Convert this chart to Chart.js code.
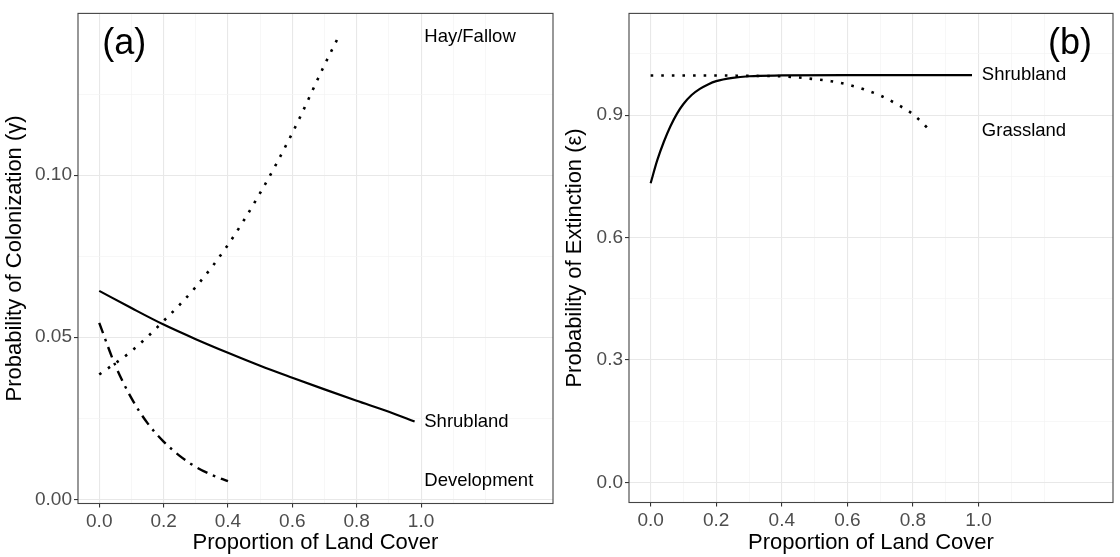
<!DOCTYPE html>
<html>
<head>
<meta charset="utf-8">
<script src="https://cdn.jsdelivr.net/npm/chart.js@4.4.1/dist/chart.umd.min.js"></script>
<style>
    html, body { margin: 0; padding: 0; background: #fff; }
    #contenedor { position: relative; width: 1120px; height: 557px; }
    canvas { position: absolute; top: 0; }
</style>
</head>
<body>
<div id="contenedor">
    <canvas id="colonizacion" width="560" height="557" style="left:0"></canvas>
    <canvas id="extincion" width="560" height="557" style="left:560px"></canvas>
</div>
<script>
// Panel (a): probabilidad de colonizacion
const xShrubA = [0, 0.1, 0.2, 0.3, 0.4, 0.5, 0.6, 0.7, 0.8, 0.9, 0.98];
const yShrubA = [0.0643, 0.0590, 0.0539, 0.0494, 0.0452, 0.0412, 0.0375, 0.0339, 0.0304, 0.0270, 0.0240];
const xHayA = [0, 0.1, 0.2, 0.3, 0.4, 0.5, 0.6, 0.7, 0.745];
const yHayA = [0.0385, 0.0457, 0.0550, 0.0655, 0.0785, 0.0945, 0.1130, 0.1340, 0.1430];
const xDevA = [0, 0.05, 0.1, 0.15, 0.2, 0.25, 0.3, 0.35, 0.4];
const yDevA = [0.0544, 0.0413, 0.0312, 0.0235, 0.0178, 0.0134, 0.0100, 0.0075, 0.0056];

// Panel (b): probabilidad de extincion
const xShrubB = [0, 0.02, 0.04, 0.06, 0.08, 0.1, 0.125, 0.15, 0.175, 0.2, 0.25, 0.3, 0.4, 0.6, 0.8, 0.98];
const yShrubB = [0.733, 0.789, 0.834, 0.872, 0.903, 0.927, 0.949, 0.964, 0.975, 0.983, 0.991, 0.995, 0.997, 0.998, 0.998, 0.998];
const xGrassB = [0, 0.2, 0.3, 0.4, 0.45, 0.5, 0.55, 0.6, 0.65, 0.7, 0.75, 0.8, 0.855];
const yGrassB = [0.997, 0.997, 0.996, 0.995, 0.992, 0.988, 0.983, 0.975, 0.963, 0.948, 0.927, 0.902, 0.860];

// Marcas de los ejes
const xMayores = [0, 0.2, 0.4, 0.6, 0.8, 1.0];
const xMenores = [0.1, 0.3, 0.5, 0.7, 0.9, 1.1, 1.2];
const yMayoresA = [0, 0.05, 0.10];
const yMenoresA = [0.025, 0.075, 0.125];
const yMayoresB = [0, 0.3, 0.6, 0.9];
const yMenoresB = [0.15, 0.45, 0.75, 1.05];

// Etiquetas de texto [texto, x, y]
const etiquetasA = [['Hay/Fallow', 1.01, 0.1427], ['Shrubland', 1.01, 0.0240], ['Development', 1.01, 0.0056]];
const etiquetasB = [['Shrubland', 1.01, 0.998], ['Grassland', 1.01, 0.860]];

Chart.defaults.font.family = '"Liberation Sans", Arial, sans-serif';
Chart.defaults.color = '#4d4d4d';

function esMayor(lista, v) {
    return lista.some(m => Math.abs(m - v) < 1e-9);
}

function puntos(xs, ys) {
    return xs.map((x, i) => ({ x: x, y: ys[i] }));
}

function crearEje(mayores, menores, min, max, decimales, titulo, tamano, vertical) {
    const mayor = ctx => ctx.tick && esMayor(mayores, ctx.tick.value);
    return {
        type: 'linear',
        min: min,
        max: max,
        afterBuildTicks: function(scale) {
            scale.ticks = mayores.concat(menores).sort((a, b) => a - b).map(v => ({ value: v }));
        },
        afterFit: function(scale) {
            if (vertical) scale.width = tamano; else scale.height = tamano;
        },
        grid: {
            color: ctx => mayor(ctx) ? '#e8e8e8' : '#f3f3f3',
            lineWidth: ctx => mayor(ctx) ? 1.1 : 0.7,
            tickColor: ctx => mayor(ctx) ? '#333333' : 'rgba(0,0,0,0)',
            tickLength: 4,
            drawTicks: true
        },
        border: { display: false },
        ticks: {
            autoSkip: false,
            maxRotation: 0,
            minRotation: 0,
            padding: vertical ? 2 : 3,
            font: { size: 19 },
            color: '#4d4d4d',
            callback: v => esMayor(mayores, v) ? v.toFixed(decimales) : ''
        },
        title: {
            display: true,
            text: titulo,
            color: '#000',
            font: { size: 22 },
            padding: { top: 2, bottom: 1 }
        }
    };
}

function linea(xs, ys, guiones, ancho) {
    return {
        data: puntos(xs, ys),
        borderColor: '#000',
        borderWidth: ancho,
        borderDash: guiones,
        pointRadius: 0,
        cubicInterpolationMode: 'monotone',
        fill: false
    };
}

// Marco del panel y textos
function marcoYTextos(etiquetas, letra, letraX, letraY) {
    return {
        id: 'marcoYTextos',
        afterDraw(chart) {
            const ctx = chart.ctx;
            const a = chart.chartArea;
            const sx = chart.scales.x;
            const sy = chart.scales.y;
            ctx.save();
            ctx.strokeStyle = '#444';
            ctx.lineWidth = 1.1;
            ctx.strokeRect(a.left, a.top, a.right - a.left, a.bottom - a.top);
            ctx.fillStyle = '#000';
            ctx.textBaseline = 'middle';
            ctx.textAlign = 'left';
            ctx.font = '18.5px "Liberation Sans", Arial, sans-serif';
            etiquetas.forEach(e => {
                ctx.fillText(e[0], sx.getPixelForValue(e[1]), sy.getPixelForValue(e[2]));
            });
            ctx.textAlign = 'center';
            ctx.font = '36px "Liberation Sans", Arial, sans-serif';
            ctx.fillText(letra, sx.getPixelForValue(letraX), sy.getPixelForValue(letraY));
            ctx.restore();
        }
    };
}

const punteado = [2.6, 8];
const rayaPunto = [11, 6, 2.6, 6];

new Chart(document.getElementById('colonizacion'), {
    type: 'line',
    data: {
        datasets: [
            linea(xShrubA, yShrubA, [], 2.2),
            linea(xHayA, yHayA, punteado, 2.6),
            linea(xDevA, yDevA, rayaPunto, 2.4)
        ]
    },
    options: {
        responsive: false,
        animation: false,
        layout: { padding: { top: 7, right: 7, left: 0, bottom: 0 } },
        plugins: { legend: { display: false }, tooltip: { enabled: false } },
        scales: {
            x: crearEje(xMayores, xMenores, -0.066, 1.41, 1, 'Proportion of Land Cover', 53.5, false),
            y: crearEje(yMayoresA, yMenoresA, -0.0013, 0.1499, 2, 'Probability of Colonization (\u03b3)', 78, true)
        }
    },
    plugins: [marcoYTextos(etiquetasA, '(a)', 0.078, 0.1403)]
});

new Chart(document.getElementById('extincion'), {
    type: 'line',
    data: {
        datasets: [
            linea(xShrubB, yShrubB, [], 2.2),
            linea(xGrassB, yGrassB, punteado, 2.6)
        ]
    },
    options: {
        responsive: false,
        animation: false,
        layout: { padding: { top: 7, right: 7, left: 0, bottom: 0 } },
        plugins: { legend: { display: false }, tooltip: { enabled: false } },
        scales: {
            x: crearEje(xMayores, xMenores, -0.066, 1.41, 1, 'Proportion of Land Cover', 54.5, false),
            y: crearEje(yMayoresB, yMenoresB, -0.049, 1.149, 1, 'Probability of Extinction (\u03b5)', 69, true)
        }
    },
    plugins: [marcoYTextos(etiquetasB, '(b)', 1.279, 1.074)]
});
</script>
</body>
</html>
